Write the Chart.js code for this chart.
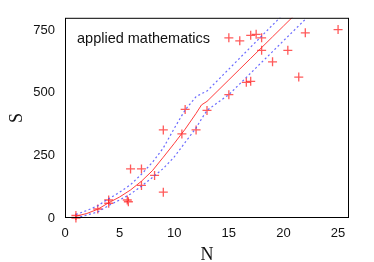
<!DOCTYPE html>
<html>
<head>
<meta charset="utf-8">
<script src="https://cdn.jsdelivr.net/npm/chart.js@4.4.0/dist/chart.umd.min.js"></script>
<style>
  html, body { margin: 0; padding: 0; background: #fff; }
  #wrap { width: 374px; height: 262px; }
</style>
</head>
<body>
<div id="wrap"><canvas id="myChart" width="374" height="262"></canvas></div>
<script>
// Datos observados (N, S)
const obsN = [1, 1, 3, 4, 4, 5.7, 5.8, 6, 7, 7, 8.2, 9, 9, 10.7, 11, 12, 13, 15, 15, 16, 16.6, 17, 17, 17.5, 18, 18, 19, 20.4, 21.4, 22, 25]
const obsS = [10, 0, 36, 72, 59, 72, 65, 196, 196, 130, 170, 352, 103, 336, 434, 352, 430, 493, 720, 708, 542, 546, 730, 734, 720, 670, 624, 670, 563, 740, 753]

// Curva ajustada y bandas
const fitN = [1, 2, 3, 4, 5, 6, 7, 8, 9, 10, 11, 12, 12.5, 13, 14, 15, 16, 17, 18, 19, 20, 21, 22]
const fitS = [7, 18, 35, 61, 84, 112, 147, 189, 243, 298, 355, 418, 452, 466, 509, 552, 595, 638, 681, 724, 767, 810, 853]
const upperS = [14, 30, 49, 77, 103, 133, 175, 222, 280, 358, 432, 485, 497, 507, 551, 595, 639, 683, 727, 771, 815, 859, 903]
const lowerS = [0, 12, 24, 50, 72, 96, 127, 162, 198, 244, 302, 360, 396, 430, 462, 493, 536, 579, 622, 665, 708, 751, 794]

const xTicks = [0, 5, 10, 15, 20, 25]
const yTicks = [0, 250, 500, 750]

const toXY = (xs, ys) => xs.map((x, i) => ({ x: x, y: ys[i] }))

// Marco negro alrededor del área y la etiqueta del texto
const framePlugin = {
  id: 'frame',
  afterDraw(chart) {
    const { ctx, chartArea } = chart
    ctx.save()
    ctx.strokeStyle = '#000'
    ctx.lineWidth = 1
    ctx.strokeRect(chartArea.left + 0.5, chartArea.top + 0.5, chartArea.right - chartArea.left - 1, chartArea.bottom - chartArea.top - 1)
    ctx.fillStyle = '#111'
    ctx.font = '14.5px "Liberation Sans", Arial, sans-serif'
    ctx.textBaseline = 'middle'
    ctx.fillText('applied mathematics', chartArea.left + 12, chartArea.top + 21)
    ctx.restore()
  }
}

const bandStyle = {
  type: 'line',
  borderColor: 'rgba(70, 70, 255, 0.8)',
  borderWidth: 1.2,
  borderDash: [2, 2.5],
  pointRadius: 0,
  fill: false,
  tension: 0
}

const ctx = document.getElementById('myChart').getContext('2d')
const myChart = new Chart(ctx, {
  type: 'scatter',
  data: {
    datasets: [
      Object.assign({ data: toXY(fitN, upperS) }, bandStyle),
      Object.assign({ data: toXY(fitN, lowerS) }, bandStyle),
      {
        type: 'line',
        data: toXY(fitN, fitS),
        borderColor: 'rgba(255, 40, 40, 0.9)',
        borderWidth: 1,
        pointRadius: 0,
        fill: false,
        tension: 0
      },
      {
        data: toXY(obsN, obsS),
        pointStyle: 'cross',
        pointRadius: 4.5,
        borderWidth: 1.3,
        borderColor: 'rgba(255, 20, 20, 0.7)',
        backgroundColor: 'rgba(255, 20, 20, 0.7)',
        clip: false
      }
    ]
  },
  options: {
    responsive: false,
    animation: false,
    layout: { padding: { top: 17, right: 25, left: 0, bottom: 0 } },
    plugins: {
      legend: { display: false },
      tooltip: { enabled: false }
    },
    scales: {
      x: {
        type: 'linear',
        min: 0,
        max: 26,
        afterBuildTicks: scale => { scale.ticks = xTicks.map(v => ({ value: v })) },
        afterFit: scale => { scale.height = 44 },
        grid: { display: false, drawTicks: false },
        border: { display: false },
        ticks: {
          color: '#111',
          padding: 8,
          maxRotation: 0,
          font: { family: '"Liberation Sans", Arial, sans-serif', size: 13 }
        },
        title: {
          display: true,
          text: 'N',
          color: '#111',
          padding: 0,
          font: { family: '"Liberation Serif", "Times New Roman", serif', size: 18, lineHeight: 0.7 }
        }
      },
      y: {
        type: 'linear',
        min: 0,
        max: 800,
        afterBuildTicks: scale => { scale.ticks = yTicks.map(v => ({ value: v })) },
        afterFit: scale => { scale.width = 65 },
        grid: { display: false, drawTicks: false },
        border: { display: false },
        ticks: {
          color: '#111',
          padding: 10,
          font: { family: '"Liberation Sans", Arial, sans-serif', size: 13 }
        },
        title: {
          display: true,
          text: 'S',
          color: '#111',
          padding: { top: 8, bottom: 0 },
          font: { family: '"Liberation Serif", "Times New Roman", serif', size: 18, lineHeight: 1 }
        }
      }
    }
  },
  plugins: [framePlugin]
})
</script>
</body>
</html>
